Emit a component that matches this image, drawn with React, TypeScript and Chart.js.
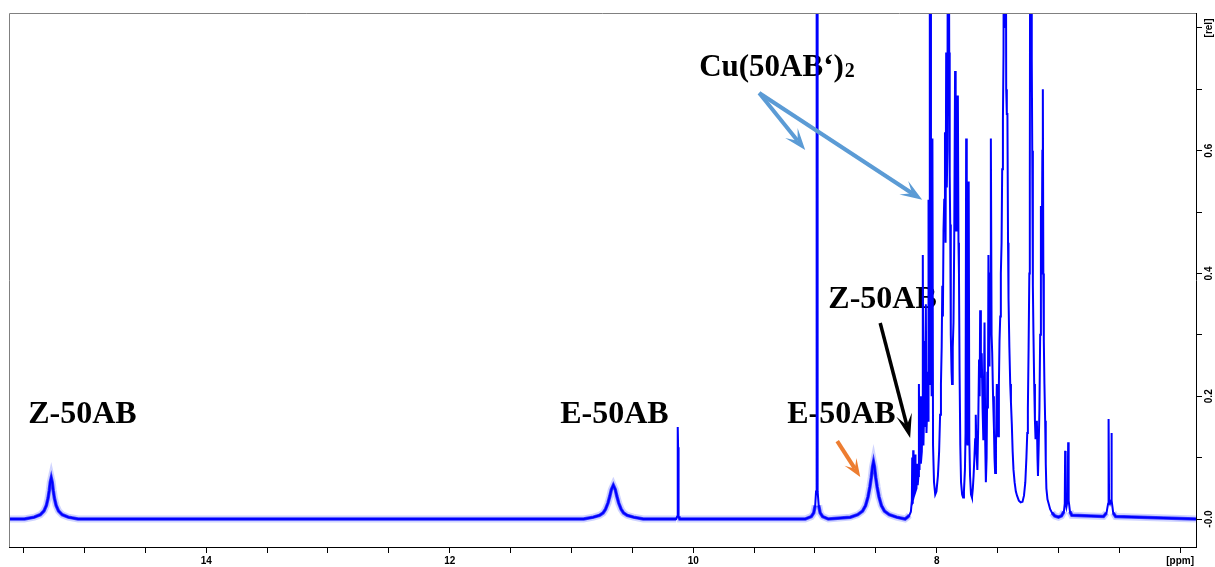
import { useEffect, useRef } from 'react';
import { Chart, registerables } from 'chart.js';

Chart.register(...registerables);

type Pt = [number, number];

// ---- axis ranges (ppm reversed, relative intensity) ----
const PPM_MIN = 5.87;
const PPM_MAX = 15.62;
const REL_MIN = -0.0456;
const REL_MAX = 0.8244;

const xTickValues = [6, 6.5, 7, 7.5, 8, 8.5, 9, 9.5, 10, 10.5, 11, 11.5, 12, 12.5, 13, 13.5, 14, 14.5, 15, 15.5];
const xLabelValues = [6, 8, 10, 12, 14];
const xLabelTexts = ['[ppm]', '8', '10', '12', '14'];

const yTickValues = [0, 0.1, 0.2, 0.3, 0.4, 0.5, 0.6, 0.7, 0.8];
const yLabelValues = [0, 0.2, 0.4, 0.6, 0.8];
const yLabelTexts = ['-0.0', '0.2', '0.4', '0.6', '[rel]'];

// ---- spectrum, [ppm, rel], high ppm -> low ppm ----
const baselineStart: Pt[] = [[15.62, 0.0]];

const zIsomerNH: Pt[] = [
  [15.493, 0.0], [15.413, 0.003], [15.363, 0.007], [15.333, 0.013], [15.313, 0.022], [15.299, 0.034],
  [15.289, 0.047], [15.281, 0.06], [15.273, 0.067], [15.265, 0.06], [15.257, 0.047], [15.247, 0.034],
  [15.233, 0.022], [15.213, 0.013], [15.183, 0.007], [15.133, 0.003], [15.053, 0.0],
];

const eIsomerNH: Pt[] = [
  [10.9, 0.0], [10.82, 0.003], [10.77, 0.006], [10.74, 0.01], [10.72, 0.016], [10.7, 0.026],
  [10.685, 0.037], [10.672, 0.048], [10.656, 0.055], [10.64, 0.048], [10.627, 0.037], [10.612, 0.026],
  [10.592, 0.016], [10.572, 0.01], [10.542, 0.006], [10.49, 0.003], [10.41, 0.0],
];

const line1013: Pt[] = [
  [10.14, 0.0], [10.132, 0.004], [10.128, 0.012], [10.126, 0.15], [10.124, 0.117], [10.122, 0.012],
  [10.118, 0.004], [10.11, 0.0],
];

const complexLine898: Pt[] = [
  [9.08, 0.0], [9.03, 0.004], [9.01, 0.01], [8.998, 0.022], [8.991, 0.045], [8.987, 0.12],
  [8.985, 1.2], [8.982, 1.2], [8.98, 0.12], [8.976, 0.045], [8.969, 0.022], [8.957, 0.01],
  [8.937, 0.004], [8.89, 0.0],
];

const eIsomerOH: Pt[] = [
  [8.709, 0.003], [8.649, 0.007], [8.609, 0.013], [8.584, 0.022], [8.564, 0.036], [8.549, 0.052],
  [8.537, 0.068], [8.527, 0.085], [8.519, 0.093], [8.511, 0.085], [8.501, 0.068], [8.489, 0.052],
  [8.474, 0.036], [8.454, 0.022], [8.429, 0.013], [8.389, 0.007], [8.329, 0.003], [8.26, 0.0],
];

const aromaticMultiplet: Pt[] = [
  [8.24, 0.003], [8.225, 0.006], [8.212, 0.012], [8.204, 0.03], [8.201, 0.1], [8.198, 0.025],
  [8.195, 0.035], [8.193, 0.112], [8.19, 0.035], [8.184, 0.04], [8.178, 0.105], [8.174, 0.045],
  [8.166, 0.05], [8.161, 0.09], [8.156, 0.055], [8.15, 0.07], [8.146, 0.22], [8.141, 0.08],
  [8.135, 0.2], [8.13, 0.09], [8.122, 0.11], [8.118, 0.16], [8.114, 0.43], [8.109, 0.12],
  [8.104, 0.17], [8.101, 0.29], [8.096, 0.15], [8.089, 0.35], [8.084, 0.14], [8.078, 0.18],
  [8.074, 0.24], [8.07, 0.16], [8.067, 0.52], [8.063, 0.22], [8.058, 1.2], [8.055, 0.35],
  [8.051, 1.2], [8.047, 0.3], [8.041, 0.2], [8.035, 0.62], [8.03, 0.12], [8.022, 0.06],
  [8.012, 0.04], [8.002, 0.045], [7.99, 0.07], [7.98, 0.11], [7.972, 0.17], [7.965, 0.22],
  [7.959, 0.28], [7.954, 0.38], [7.949, 0.33], [7.944, 0.47], [7.938, 0.52], [7.932, 0.63],
  [7.927, 0.45], [7.922, 0.76], [7.917, 0.54], [7.912, 0.6], [7.907, 1.2], [7.904, 0.7],
  [7.901, 1.2], [7.897, 0.76], [7.893, 0.56], [7.889, 0.48], [7.884, 0.3], [7.878, 0.24],
  [7.874, 0.22], [7.868, 0.28], [7.862, 0.32], [7.856, 0.45], [7.849, 0.73], [7.844, 0.5],
  [7.84, 0.47], [7.835, 0.69], [7.831, 0.56], [7.826, 0.69], [7.821, 0.45], [7.817, 0.4],
  [7.812, 0.24], [7.806, 0.12], [7.8, 0.06], [7.791, 0.04], [7.783, 0.035], [7.776, 0.045],
  [7.768, 0.08], [7.763, 0.14], [7.758, 0.62], [7.753, 0.14], [7.747, 0.12], [7.741, 0.16],
  [7.737, 0.55], [7.732, 0.13], [7.726, 0.07], [7.718, 0.04], [7.71, 0.035], [7.703, 0.05],
  [7.697, 0.07], [7.69, 0.1], [7.684, 0.13], [7.679, 0.17], [7.673, 0.11], [7.666, 0.08],
  [7.659, 0.15], [7.652, 0.26], [7.647, 0.2], [7.643, 0.34], [7.637, 0.23], [7.63, 0.27],
  [7.623, 0.18], [7.617, 0.13], [7.612, 0.2], [7.607, 0.32], [7.601, 0.12], [7.596, 0.06],
  [7.59, 0.1], [7.584, 0.24], [7.579, 0.18], [7.575, 0.43], [7.57, 0.25], [7.566, 0.29],
  [7.56, 0.4], [7.555, 0.62], [7.549, 0.3], [7.544, 0.27], [7.537, 0.2], [7.53, 0.15],
  [7.525, 0.1], [7.52, 0.075], [7.513, 0.12], [7.506, 0.22], [7.5, 0.16], [7.495, 0.135],
  [7.489, 0.22], [7.484, 0.29], [7.478, 0.33], [7.473, 0.4], [7.467, 0.45], [7.462, 0.57],
  [7.456, 0.65], [7.451, 0.76], [7.447, 1.2], [7.444, 0.8], [7.44, 1.2], [7.437, 0.85],
  [7.433, 1.2], [7.429, 0.7], [7.424, 0.66], [7.419, 0.66], [7.414, 0.45], [7.41, 0.36],
  [7.403, 0.28], [7.396, 0.22], [7.39, 0.19], [7.383, 0.155], [7.376, 0.11], [7.369, 0.08],
  [7.36, 0.06], [7.35, 0.045], [7.34, 0.038], [7.325, 0.03], [7.31, 0.027], [7.295, 0.028],
  [7.283, 0.038], [7.272, 0.06], [7.263, 0.1], [7.256, 0.14], [7.251, 0.18], [7.245, 0.28],
  [7.239, 0.4], [7.235, 0.55], [7.231, 1.2], [7.227, 0.9], [7.223, 1.2], [7.219, 0.75],
  [7.215, 0.6], [7.21, 0.38], [7.205, 0.3], [7.199, 0.22], [7.193, 0.16], [7.188, 0.13],
  [7.182, 0.15], [7.177, 0.16], [7.172, 0.1], [7.168, 0.07], [7.162, 0.12], [7.156, 0.18],
  [7.15, 0.3], [7.144, 0.51], [7.14, 0.4], [7.136, 0.45], [7.132, 0.6], [7.128, 0.7],
  [7.124, 0.4], [7.12, 0.29], [7.115, 0.22], [7.109, 0.16], [7.104, 0.09], [7.099, 0.05],
  [7.09, 0.032], [7.08, 0.025], [7.068, 0.016], [7.052, 0.01], [7.03, 0.005], [7.0, 0.003],
];

const doublet693: Pt[] = [
  [6.975, 0.005], [6.955, 0.012], [6.948, 0.025], [6.945, 0.111], [6.941, 0.03], [6.934, 0.02],
  [6.925, 0.03], [6.92, 0.125], [6.916, 0.03], [6.905, 0.012], [6.89, 0.006],
];

const doublet658: Pt[] = [
  [6.63, 0.004], [6.605, 0.01], [6.592, 0.025], [6.588, 0.163], [6.584, 0.03], [6.576, 0.025],
  [6.568, 0.03], [6.565, 0.14], [6.561, 0.03], [6.55, 0.01], [6.53, 0.004],
];

const baselineEnd: Pt[] = [[5.87, 0.0]];

// ppm windows where the baseline noise band is visible
const noiseWindows: Pt[] = [
  [15.62, 10.138], [10.12, 8.995], [8.972, 8.215], [7.06, 6.952], [6.91, 6.6], [6.556, 5.87],
];

// ---- annotations ----
const labelTexts = ['Z-50AB', 'E-50AB', 'E-50AB', 'Z-50AB'];
const labelPpm = [15.462, 11.092, 9.228, 8.89];
const labelRel = [0.1564, 0.1564, 0.1564, 0.3438];
const complexLabel = { main: 'Cu(50AB\u2018)', sub: '2', ppm: 9.951, rel: 0.7218 };

const arrows = [
  { from: [9.458, 0.694], to: [9.08, 0.601], color: '#5B9BD5', width: 4, head: 22, half: 8 },
  { from: [9.458, 0.694], to: [8.119, 0.52], color: '#5B9BD5', width: 4, head: 22, half: 8 },
  { from: [8.464, 0.3193], to: [8.218, 0.132], color: '#000000', width: 3.5, head: 24, half: 8 },
  { from: [8.817, 0.127], to: [8.628, 0.0684], color: '#ED7D31', width: 4, head: 18, half: 7 },
];

const trace: Pt[] = [
  ...baselineStart, ...zIsomerNH, ...eIsomerNH, ...line1013, ...complexLine898,
  ...eIsomerOH, ...aromaticMultiplet, ...doublet693, ...doublet658, ...baselineEnd,
];

const inNoiseWindow = (p: number) => noiseWindows.some(([a, b]) => p <= a + 1e-9 && p >= b - 1e-9);

function findLabel(values: number[], texts: string[], v: number): string {
  for (let i = 0; i < values.length; i++) if (Math.abs(values[i] - v) < 1e-6) return texts[i];
  return '';
}

function drawArrow(ctx: CanvasRenderingContext2D, x1: number, y1: number, x2: number, y2: number,
  color: string, width: number, head: number, half: number) {
  const dx = x2 - x1, dy = y2 - y1;
  const len = Math.hypot(dx, dy);
  const ux = dx / len, uy = dy / len;
  const nx = -uy, ny = ux;
  const notch = head * 0.55;
  ctx.save();
  ctx.strokeStyle = color;
  ctx.fillStyle = color;
  ctx.lineWidth = width;
  ctx.lineCap = 'butt';
  ctx.beginPath();
  ctx.moveTo(x1, y1);
  ctx.lineTo(x2 - ux * notch, y2 - uy * notch);
  ctx.stroke();
  ctx.beginPath();
  ctx.moveTo(x2, y2);
  ctx.lineTo(x2 - ux * head + nx * half, y2 - uy * head + ny * half);
  ctx.lineTo(x2 - ux * notch, y2 - uy * notch);
  ctx.lineTo(x2 - ux * head - nx * half, y2 - uy * head - ny * half);
  ctx.closePath();
  ctx.fill();
  ctx.restore();
}

const annotationPlugin = {
  id: 'nmrAnnotations',
  beforeDatasetsDraw(chart: any) {
    const { ctx, scales } = chart;
    const xs = scales.x, ys = scales.y;
    ctx.save();
    ctx.fillStyle = '#000';
    ctx.textBaseline = 'alphabetic';
    ctx.textAlign = 'left';
    ctx.font = 'bold 32px "Liberation Serif", "Times New Roman", serif';
    labelTexts.forEach((t, i) => {
      ctx.fillText(t, xs.getPixelForValue(labelPpm[i]), ys.getPixelForValue(labelRel[i]));
    });
    const cx = xs.getPixelForValue(complexLabel.ppm);
    const cy = ys.getPixelForValue(complexLabel.rel);
    ctx.font = 'bold 31px "Liberation Serif", "Times New Roman", serif';
    ctx.fillText(complexLabel.main, cx, cy);
    const w = ctx.measureText(complexLabel.main).width;
    ctx.font = 'bold 20px "Liberation Serif", "Times New Roman", serif';
    ctx.fillText(complexLabel.sub, cx + w + 1, cy + 1);
    ctx.restore();
  },
  afterDatasetsDraw(chart: any) {
    const { ctx, scales } = chart;
    const xs = scales.x, ys = scales.y;
    arrows.forEach((a) => {
      drawArrow(ctx,
        xs.getPixelForValue(a.from[0]), ys.getPixelForValue(a.from[1]),
        xs.getPixelForValue(a.to[0]), ys.getPixelForValue(a.to[1]),
        a.color, a.width, a.head, a.half);
    });
  },
  afterDraw(chart: any) {
    const { ctx, chartArea, scales } = chart;
    const ys = scales.y;
    ctx.save();
    // top and left frame lines
    ctx.strokeStyle = '#808080';
    ctx.lineWidth = 1;
    ctx.beginPath();
    ctx.moveTo(chartArea.left + 0.5, chartArea.bottom);
    ctx.lineTo(chartArea.left + 0.5, chartArea.top + 0.5);
    ctx.lineTo(chartArea.right, chartArea.top + 0.5);
    ctx.stroke();
    // rotated y tick labels
    ctx.fillStyle = '#000';
    ctx.font = 'bold 10px "Liberation Sans", Arial, sans-serif';
    ctx.textAlign = 'center';
    ctx.textBaseline = 'alphabetic';
    yLabelValues.forEach((v, i) => {
      const py = ys.getPixelForValue(v);
      ctx.save();
      ctx.translate(chartArea.right + 16, py);
      ctx.rotate(-Math.PI / 2);
      ctx.fillText(yLabelTexts[i], 0, 0);
      ctx.restore();
    });
    ctx.restore();
  },
};

export default function App() {
  const ref = useRef<HTMLCanvasElement>(null);

  useEffect(() => {
    const canvas = ref.current;
    if (!canvas) return;
    const spectrumData = trace.map(([x, y]) => ({ x, y }));
    const noiseData = trace.map(([x, y]) => ({ x, y: inNoiseWindow(x) ? y : null }));

    const chart = new Chart(canvas, {
      type: 'line',
      data: {
        datasets: [
          {
            label: 'spectrum',
            data: spectrumData as any,
            borderColor: '#0000ff',
            borderWidth: 2,
            pointRadius: 0,
            tension: 0,
            fill: false,
            clip: 0 as any,
            order: 0,
          },
          {
            label: 'noise core',
            data: noiseData as any,
            borderColor: 'rgba(0,0,255,0.7)',
            borderWidth: 3.5,
            pointRadius: 0,
            tension: 0,
            fill: false,
            spanGaps: false,
            clip: 0 as any,
            order: 1,
          },
          {
            label: 'noise fringe',
            data: noiseData as any,
            borderColor: 'rgba(40,60,255,0.22)',
            borderWidth: 7,
            pointRadius: 0,
            tension: 0,
            fill: false,
            spanGaps: false,
            clip: 0 as any,
            order: 2,
          },
        ],
      },
      options: {
        animation: false,
        responsive: false,
        events: [],
        layout: { padding: { left: 9, top: 13, right: 0, bottom: 0 } },
        plugins: { legend: { display: false }, tooltip: { enabled: false } },
        scales: {
          x: {
            type: 'linear',
            position: 'bottom',
            reverse: true,
            min: PPM_MIN,
            max: PPM_MAX,
            afterBuildTicks: (s: any) => { s.ticks = xTickValues.map((value) => ({ value })); },
            afterFit: (s: any) => { s.height = 20; },
            ticks: {
              autoSkip: false,
              maxRotation: 0,
              minRotation: 0,
              padding: 2,
              color: '#000',
              font: { family: '"Liberation Sans", Arial, sans-serif', size: 10, weight: 'bold' },
              callback: (v: any) => findLabel(xLabelValues, xLabelTexts, Number(v)),
            },
            grid: { drawOnChartArea: false, drawTicks: true, tickLength: 6, tickColor: '#000', color: '#000' },
            border: { display: true, color: '#000', width: 1 },
          },
          y: {
            type: 'linear',
            position: 'right',
            min: REL_MIN,
            max: REL_MAX,
            afterBuildTicks: (s: any) => { s.ticks = yTickValues.map((value) => ({ value })); },
            afterFit: (s: any) => { s.width = 19; },
            ticks: { display: false },
            grid: { drawOnChartArea: false, drawTicks: true, tickLength: 6, tickColor: '#000', color: '#000' },
            border: { display: true, color: '#000', width: 1 },
          },
        },
      } as any,
      plugins: [annotationPlugin],
    });

    let alive = true;
    if ((document as any).fonts?.load) {
      Promise.all([
        document.fonts.load('bold 32px "Liberation Serif"'),
        document.fonts.load('bold 10px "Liberation Sans"'),
      ]).then(() => { if (alive) chart.update('none'); }, () => {});
    }
    return () => { alive = false; chart.destroy(); };
  }, []);

  return (
    <div style={{ position: 'absolute', left: 0, top: 0, width: 1215, height: 567, background: '#fff' }}>
      <canvas ref={ref} width={1215} height={567} style={{ display: 'block', width: 1215, height: 567 }} />
    </div>
  );
}
